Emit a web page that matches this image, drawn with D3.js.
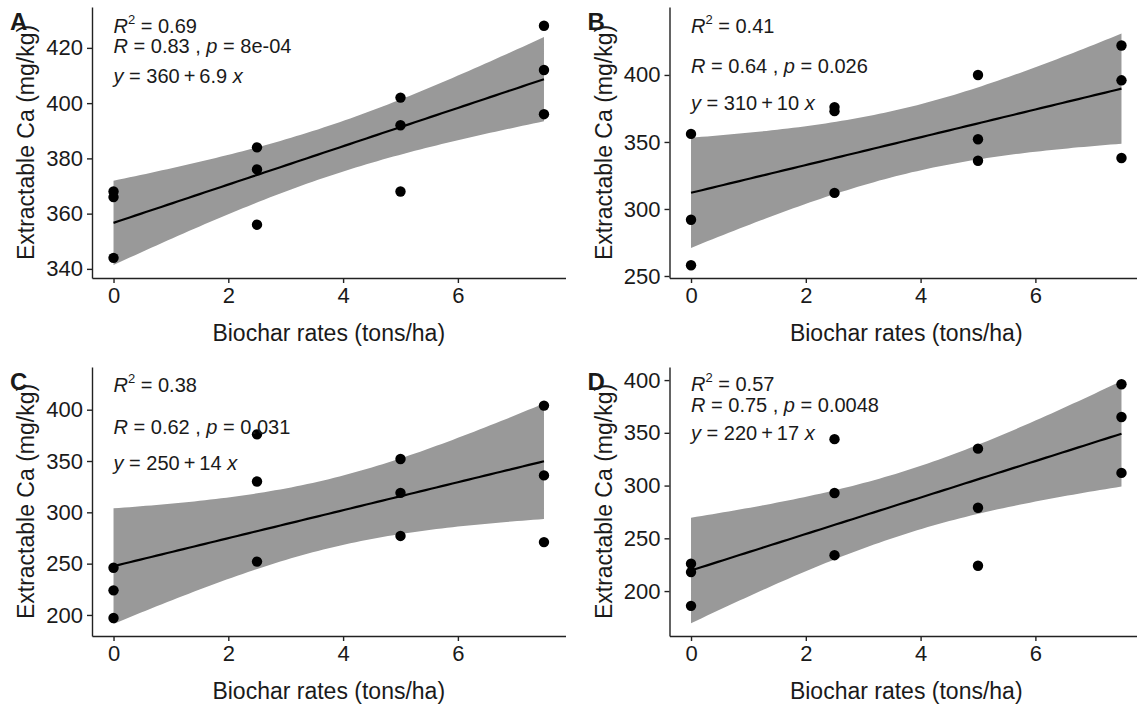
<!DOCTYPE html>
<html><head><meta charset="utf-8">
<script src="https://cdn.jsdelivr.net/npm/d3@7"></script>
<style>
body{margin:0;background:#fff}
text{font-family:"Liberation Sans",Arial,sans-serif;fill:#1a1a1a}
</style>
</head><body>
<svg id="c" width="1137" height="704"></svg>
<script>
// ---------- data ----------
const rates = [0,0,0,2.5,2.5,2.5,5,5,5,7.5,7.5,7.5];
const caA = [368,366,344,384,376,356,402,392,368,428,412,396];
const caB = [356,292,258,376,373,312,400,352,336,422,396,338];
const caC = [246,224,197,376,330,252,352,319,277,404,336,271];
const caD = [226,218,186,344,293,234,335,279,224,396,365,312];
const panelLetters = ["A","B","C","D"];
const r2Values = ["0.69","0.41","0.38","0.57"];
const rValues = ["0.83","0.64","0.62","0.75"];
const pValues = ["8e-04","0.026","0.031","0.0048"];
const intercepts = ["360","310","250","220"];
const slopes = ["6.9","10","14","17"];
const xTicks = [0,2,4,6];
const yTicksA = [340,360,380,400,420];
const yTicksB = [250,300,350,400];
const yTicksC = [200,250,300,350,400];
const yTicksD = [200,250,300,350,400];
const xTitle = "Biochar rates (tons/ha)";
const yTitle = "Extractable Ca (mg/kg)";

// ---------- layout ----------
const panels = [
  {ys:caA, ticks:yTicksA, dom:[336.7,434.8], x0:92,  x1:565.5, y0:7,   y1:278, ann:[33,53,83]},
  {ys:caB, ticks:yTicksB, dom:[248.5,450.7], x0:669.5,x1:1143, y0:7,   y1:278, ann:[33,72.5,110]},
  {ys:caC, ticks:yTicksC, dom:[179.5,441.6], x0:92,  x1:565.5, y0:367, y1:636, ann:[392,433.5,470]},
  {ys:caD, ticks:yTicksD, dom:[157.4,412.4], x0:669.5,x1:1143, y0:367, y1:636, ann:[391,412,439.5]}
];
const svg = d3.select("#c");
const T975 = 2.228; // t quantile, df = 10

function fit(xs, ys){
  const n = xs.length, mx = d3.mean(xs), my = d3.mean(ys);
  let sxx=0, sxy=0;
  xs.forEach((x,i)=>{sxx+=(x-mx)**2; sxy+=(x-mx)*(ys[i]-my);});
  const b = sxy/sxx, a = my - b*mx;
  let sse=0; xs.forEach((x,i)=>{sse+=(ys[i]-a-b*x)**2;});
  const s = Math.sqrt(sse/(n-2));
  return {a,b,se:x=>s*Math.sqrt(1/n+(x-mx)**2/sxx)};
}

panels.forEach((p,k)=>{
  const x = d3.scaleLinear().domain([-0.375,7.875]).range([p.x0,p.x1]);
  const y = d3.scaleLinear().domain(p.dom).range([p.y1,p.y0]);
  const g = svg.append("g");
  const f = fit(rates, p.ys);
  const grid = d3.range(0,81).map(i=>7.5*i/80);
  g.append("path").datum(grid)
    .attr("d", d3.area().x(d=>x(d))
      .y0(d=>y(f.a+f.b*d - T975*f.se(d)))
      .y1(d=>y(f.a+f.b*d + T975*f.se(d))))
    .attr("fill","#999999");
  g.append("path").datum(grid)
    .attr("d", d3.line().x(d=>x(d)).y(d=>y(f.a+f.b*d)))
    .attr("fill","none").attr("stroke","#000").attr("stroke-width",2.2);
  g.selectAll("circle.pt").data(p.ys).join("circle")
    .attr("cx",(d,i)=>x(rates[i])).attr("cy",d=>y(d)).attr("r",5.2).attr("fill","#000");

  // axes
  const ax = g.append("g").attr("transform",`translate(0,${p.y1})`)
    .call(d3.axisBottom(x).tickValues(xTicks).tickFormat(d3.format("d")).tickSize(5).tickSizeOuter(0).tickPadding(4));
  const ay = g.append("g").attr("transform",`translate(${p.x0},0)`)
    .call(d3.axisLeft(y).tickValues(p.ticks).tickFormat(d3.format("d")).tickSize(5).tickSizeOuter(0).tickPadding(4));
  [ax,ay].forEach(a=>{
    a.select(".domain").attr("stroke","#222").attr("stroke-width",1.4);
    a.selectAll(".tick line").attr("stroke","#222").attr("stroke-width",1.4);
    a.selectAll(".tick text").attr("font-size",22).attr("fill","#1a1a1a")
      .style("font-family",'"Liberation Sans",Arial,sans-serif');
  });

  // titles
  g.append("text").attr("x",(p.x0+Math.min(p.x1,1143))/2).attr("y",p.y1+63)
    .attr("text-anchor","middle").attr("font-size",23).text(xTitle);
  g.append("text").attr("transform",`translate(${p.x0-66},${(p.y0+p.y1)/2}) rotate(-90)`)
    .attr("text-anchor","middle").attr("dominant-baseline","central").attr("font-size",23).text(yTitle);

  // panel letter
  g.append("text").attr("x",p.x0-82).attr("y",p.y0+23).attr("font-size",24)
    .attr("font-weight","bold").attr("fill","#000").text(panelLetters[k]);

  // annotations
  const lx = x(0);
  const t1 = g.append("text").attr("x",lx).attr("y",p.ann[0]).attr("font-size",20);
  t1.append("tspan").attr("font-style","italic").text("R");
  t1.append("tspan").attr("font-size",13).attr("dy",-9).text("2");
  t1.append("tspan").attr("dy",9).text(" = "+r2Values[k]);
  const t2 = g.append("text").attr("x",lx).attr("y",p.ann[1]).attr("font-size",20);
  t2.append("tspan").attr("font-style","italic").text("R");
  t2.append("tspan").text(" = "+rValues[k]+" , ");
  t2.append("tspan").attr("font-style","italic").text("p");
  t2.append("tspan").text(" = "+pValues[k]);
  const t3 = g.append("text").attr("x",lx).attr("y",p.ann[2]).attr("font-size",20);
  t3.append("tspan").attr("font-style","italic").text("y");
  t3.append("tspan").text(" = "+intercepts[k]+"\u2009+\u2009"+slopes[k]+" ");
  t3.append("tspan").attr("font-style","italic").text("x");
});
</script>
</body></html>
